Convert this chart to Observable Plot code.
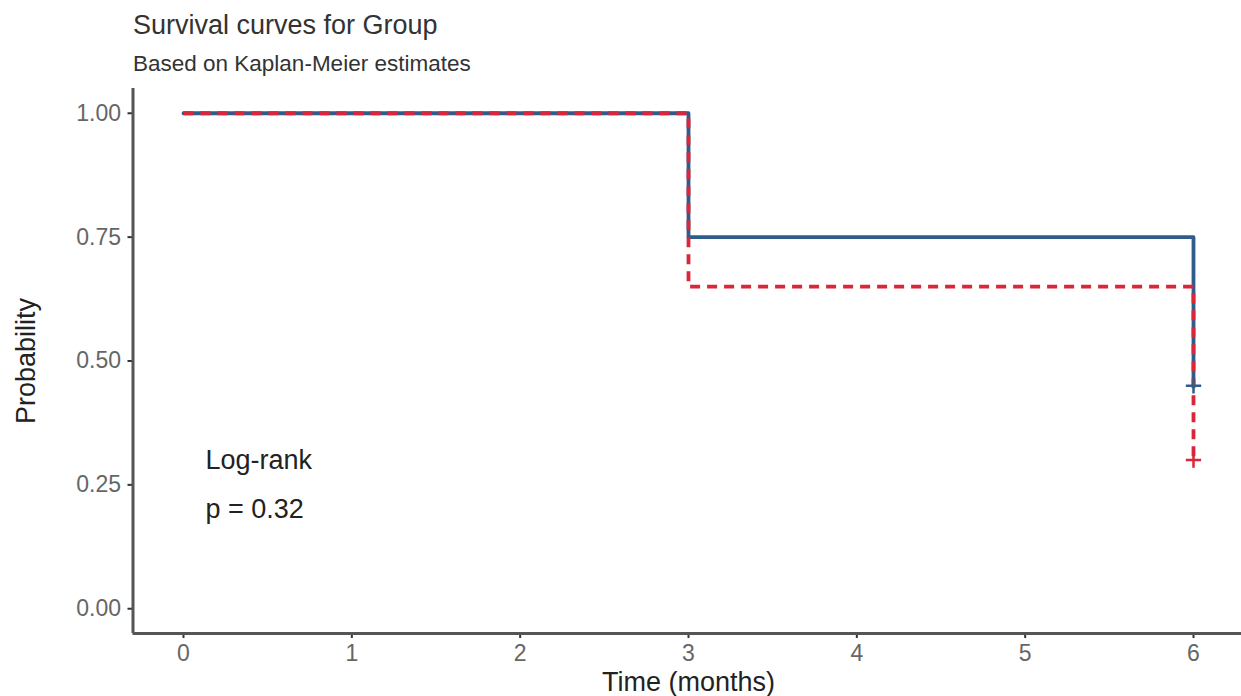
<!DOCTYPE html>
<html>
<head>
<meta charset="utf-8">
<script src="https://cdn.jsdelivr.net/npm/d3@7"></script>
<script src="https://cdn.jsdelivr.net/npm/@observablehq/plot@0.6"></script>
<style>
  html, body { margin: 0; padding: 0; background: #fff; }
  body { width: 1241px; height: 696px; overflow: hidden; position: relative; font-family: "Liberation Sans", Arial, sans-serif; }
  #title { position: absolute; left: 133px; top: 12px; font-size: 27px; line-height: 27px; color: #333; white-space: nowrap; }
  #subtitle { position: absolute; left: 133px; top: 52px; font-size: 22.5px; line-height: 23px; color: #333; white-space: nowrap; }
  #chart { position: absolute; left: 0; top: 80px; }
  #chart svg { overflow: visible; }
</style>
</head>
<body>
<div id="title">Survival curves for Group</div>
<div id="subtitle">Based on Kaplan-Meier estimates</div>
<div id="chart"></div>
<script>
// ---- data ----
const times = [0, 3, 6];
const survGroup1 = [1.00, 0.75, 0.45];
const survGroup2 = [1.00, 0.65, 0.30];
const censorTimes = [6];
const censorGroup1 = [0.45];
const censorGroup2 = [0.30];
const xTicks = [0, 1, 2, 3, 4, 5, 6];
const yTicks = [0, 0.25, 0.5, 0.75, 1];
const yTickLabels = ["0.00", "0.25", "0.50", "0.75", "1.00"];
const xDomain = [-0.3, 6.3];
const yDomain = [-0.05, 1.05];
const xTitle = ["Time (months)"];
const yTitle = ["Probability"];
const pvalLines = ["Log-rank", "p = 0.32"];
const pvalX = [0.13, 0.13];
const pvalY = [0.282, 0.183];
const colors = ["#2f5c8a", "#d9263a"];

const line1 = times.map((t, i) => ({t, s: survGroup1[i]}));
const line2 = times.map((t, i) => ({t, s: survGroup2[i]}));
const cens1 = censorTimes.map((t, i) => ({t, s: censorGroup1[i]}));
const cens2 = censorTimes.map((t, i) => ({t, s: censorGroup2[i]}));
const pval = pvalLines.map((txt, i) => ({txt, x: pvalX[i], y: pvalY[i]}));

const font = '"Liberation Sans", Arial, sans-serif';

const chart = Plot.plot({
  width: 1241,
  height: 616,
  marginTop: 8,
  marginBottom: 63,
  marginLeft: 132.5,
  marginRight: -2.5,
  style: { fontFamily: font, background: "transparent", overflow: "visible" },
  x: { domain: xDomain },
  y: { domain: yDomain },
  marks: [
    Plot.axisX({ ticks: xTicks, tickSize: 5, tickPadding: 6, label: null, stroke: "#333", strokeWidth: 2, fill: "#666", fontSize: 23, tickFormat: d => String(d) }),
    Plot.axisY({ ticks: yTicks, tickSize: 5, tickPadding: 7, label: null, stroke: "#333", strokeWidth: 2, fill: "#666", fontSize: 23, tickFormat: d => yTickLabels[yTicks.indexOf(d)] }),
    Plot.ruleX([xDomain[0]], { stroke: "#555", strokeWidth: 3 }),
    Plot.ruleY([yDomain[0]], { stroke: "#555", strokeWidth: 3 }),
    Plot.text(xTitle, { frameAnchor: "bottom", textAnchor: "middle", text: d => d, dy: 57, lineAnchor: "bottom", fontSize: 27, fill: "#222" }),
    Plot.text(yTitle, { frameAnchor: "left", textAnchor: "middle", text: d => d, dx: -117, rotate: -90, lineAnchor: "top", fontSize: 27, fill: "#222" }),
    Plot.line(line1, { x: "t", y: "s", curve: "step-after", stroke: colors[0], strokeWidth: 3.8 }),
    Plot.line(line2, { x: "t", y: "s", curve: "step-after", stroke: colors[1], strokeWidth: 3.8, strokeDasharray: "10,7", strokeLinecap: "butt" }),
    Plot.dot(cens1, { x: "t", y: "s", symbol: "plus", r: 5, stroke: colors[0], strokeWidth: 2.5, fill: "none" }),
    Plot.dot(cens2, { x: "t", y: "s", symbol: "plus", r: 5, stroke: colors[1], strokeWidth: 2.5, fill: "none" }),
    Plot.text(pval, { x: "x", y: "y", text: "txt", textAnchor: "start", lineAnchor: "bottom", fontSize: 27, fill: "#222" })
  ]
});
document.getElementById("chart").appendChild(chart);
</script>
</body>
</html>
